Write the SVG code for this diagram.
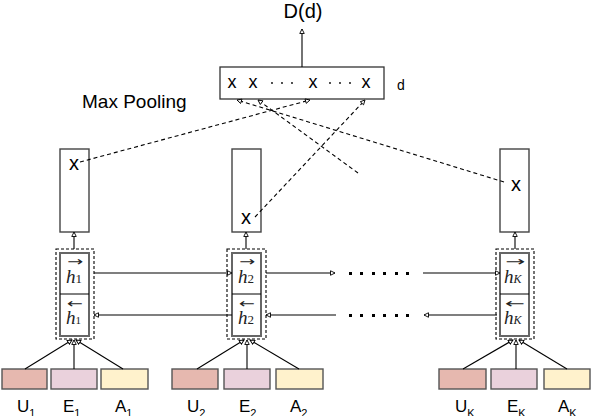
<svg xmlns="http://www.w3.org/2000/svg" width="592" height="416" viewBox="0 0 592 416">
<defs>
<marker id="ah" viewBox="0 0 8 8" refX="7" refY="4" markerWidth="6" markerHeight="6" markerUnits="userSpaceOnUse" orient="auto">
<path d="M1,1 L7,4 L1,7 z" fill="#fff" stroke="#000" stroke-width="1.2"/>
</marker>
<style>
.s{font-family:"Liberation Sans",Arial,sans-serif;fill:#000}
.m{font-family:"Liberation Serif","Times New Roman",serif;font-style:italic;fill:#222}
.acc{font-family:"DejaVu Sans",sans-serif;fill:#222}
.cell{fill:#fff;stroke:#444;stroke-width:1.4}
.hid{fill:#fff;stroke:#666;stroke-width:2}
.dbox{fill:none;stroke:#000;stroke-width:1.1;stroke-dasharray:3,2}
.ln{stroke:#000;stroke-width:1.1;fill:none}
.dl{stroke:#000;stroke-width:1.1;fill:none;stroke-dasharray:4,3}
.u{fill:#e6b8af;stroke:#555;stroke-width:1.4}
.e{fill:#ead1dc;stroke:#555;stroke-width:1.4}
.a{fill:#fff2cc;stroke:#555;stroke-width:1.4}
.dot{fill:#000}
</style>
</defs>
<rect width="592" height="416" fill="#fff"/>

<g id="output">
<text class="s" x="303" y="18" font-size="20" text-anchor="middle">D(d)</text>
</g>

<g id="maxpool">
<rect x="220" y="67" width="164" height="32" fill="#fff" stroke="#333" stroke-width="1.3"/>
<text class="s" x="232" y="88" font-size="18" text-anchor="middle">x</text>
<text class="s" x="253" y="88" font-size="18" text-anchor="middle">x</text>
<text class="s" x="313" y="88" font-size="18" text-anchor="middle">x</text>
<text class="s" x="366" y="88" font-size="18" text-anchor="middle">x</text>
<circle class="dot" cx="272" cy="83" r="0.9"/><circle class="dot" cx="282" cy="83" r="0.9"/><circle class="dot" cx="292" cy="83" r="0.9"/>
<circle class="dot" cx="330" cy="83" r="0.9"/><circle class="dot" cx="340" cy="83" r="0.9"/><circle class="dot" cx="350" cy="83" r="0.9"/>
<text class="s" x="397" y="90" font-size="14">d</text>
<text class="s" x="82" y="108" font-size="19">Max Pooling</text>
</g>

<g id="cell1">
<rect class="cell" x="60" y="149" width="29" height="83"/>
<text class="s" x="74" y="170" font-size="20" text-anchor="middle">x</text>
</g>
<g id="cell2">
<rect class="cell" x="232" y="149" width="29" height="83"/>
<text class="s" x="246" y="224" font-size="20" text-anchor="middle">x</text>
</g>
<g id="cellK">
<rect class="cell" x="500" y="149" width="29" height="83"/>
<text class="s" x="516" y="191" font-size="20" text-anchor="middle">x</text>
</g>

<g id="hidden1">
<rect class="dbox" x="56" y="249" width="38" height="90"/>
<rect class="hid" x="60" y="253" width="29" height="83"/>
<line x1="60" y1="294" x2="89" y2="294" stroke="#000" stroke-width="1"/>
<text class="acc" x="67" y="266" font-size="13" textLength="16" lengthAdjust="spacingAndGlyphs">→</text>
<text class="m" x="66" y="283" font-size="19">h<tspan font-style="normal" font-size="13">1</tspan></text>
<text class="acc" x="67" y="308" font-size="13" textLength="16" lengthAdjust="spacingAndGlyphs">←</text>
<text class="m" x="66" y="324" font-size="19">h<tspan font-style="normal" font-size="11">1</tspan></text>
</g>
<g id="hidden2">
<rect class="dbox" x="227" y="249" width="39" height="90"/>
<rect class="hid" x="232" y="253" width="29" height="83"/>
<line x1="232" y1="294" x2="261" y2="294" stroke="#000" stroke-width="1"/>
<text class="acc" x="239" y="266" font-size="13" textLength="16" lengthAdjust="spacingAndGlyphs">→</text>
<text class="m" x="238" y="283" font-size="19">h<tspan font-style="normal" font-size="13">2</tspan></text>
<text class="acc" x="239" y="308" font-size="13" textLength="16" lengthAdjust="spacingAndGlyphs">←</text>
<text class="m" x="238" y="324" font-size="19">h<tspan font-style="normal" font-size="13">2</tspan></text>
</g>
<g id="hiddenK">
<rect class="dbox" x="496" y="249" width="38" height="90"/>
<rect class="hid" x="500" y="253" width="29" height="83"/>
<line x1="500" y1="294" x2="529" y2="294" stroke="#000" stroke-width="1"/>
<text class="acc" x="505" y="266" font-size="13" textLength="20" lengthAdjust="spacingAndGlyphs">→</text>
<text class="m" x="504" y="283" font-size="19">h<tspan font-size="12">K</tspan></text>
<text class="acc" x="505" y="308" font-size="13" textLength="20" lengthAdjust="spacingAndGlyphs">←</text>
<text class="m" x="504" y="324" font-size="19">h<tspan font-size="12">K</tspan></text>
</g>

<g id="dots">
<rect class="dot" x="349" y="272" width="3" height="3"/><rect class="dot" x="360" y="272" width="3" height="3"/><rect class="dot" x="372" y="272" width="3" height="3"/><rect class="dot" x="383" y="272" width="3" height="3"/><rect class="dot" x="395" y="272" width="3" height="3"/><rect class="dot" x="406" y="272" width="3" height="3"/>
<rect class="dot" x="349" y="314" width="3" height="3"/><rect class="dot" x="360" y="314" width="3" height="3"/><rect class="dot" x="372" y="314" width="3" height="3"/><rect class="dot" x="383" y="314" width="3" height="3"/><rect class="dot" x="395" y="314" width="3" height="3"/><rect class="dot" x="406" y="314" width="3" height="3"/>
</g>

<g id="inputs1">
<rect class="u" x="2" y="369" width="45" height="20"/>
<rect class="e" x="51" y="369" width="46" height="20"/>
<rect class="a" x="101" y="369" width="47" height="20"/>
<text class="s" x="17" y="412" font-size="17">U<tspan font-size="11" dy="5">1</tspan></text>
<text class="s" x="63" y="412" font-size="17">E<tspan font-size="11" dy="5">1</tspan></text>
<text class="s" x="115" y="412" font-size="17">A<tspan font-size="11" dy="5">1</tspan></text>
</g>
<g id="inputs2">
<rect class="u" x="172" y="369" width="46" height="20"/>
<rect class="e" x="224" y="369" width="46" height="20"/>
<rect class="a" x="276" y="369" width="47" height="20"/>
<text class="s" x="187" y="412" font-size="17">U<tspan font-size="11" dy="5">2</tspan></text>
<text class="s" x="239" y="412" font-size="17">E<tspan font-size="11" dy="5">2</tspan></text>
<text class="s" x="290" y="412" font-size="17">A<tspan font-size="11" dy="5">2</tspan></text>
</g>
<g id="inputsK">
<rect class="u" x="439" y="369" width="47" height="20"/>
<rect class="e" x="491" y="369" width="46" height="20"/>
<rect class="a" x="544" y="369" width="46" height="20"/>
<text class="s" x="455" y="412" font-size="17">U<tspan font-size="11" dy="5">K</tspan></text>
<text class="s" x="507" y="412" font-size="17">E<tspan font-size="11" dy="5">K</tspan></text>
<text class="s" x="558" y="412" font-size="17">A<tspan font-size="11" dy="5">K</tspan></text>
</g>

<g id="connectors">
<line class="ln" x1="302" y1="67" x2="302" y2="29" marker-end="url(#ah)"/>
<line class="ln" x1="74" y1="249" x2="74" y2="232" marker-end="url(#ah)"/>
<line class="ln" x1="246" y1="249" x2="246" y2="232" marker-end="url(#ah)"/>
<line class="ln" x1="515" y1="249" x2="515" y2="232" marker-end="url(#ah)"/>
<line class="ln" x1="94" y1="273" x2="232" y2="273" marker-end="url(#ah)"/>
<line class="ln" x1="266" y1="273" x2="335" y2="273" marker-end="url(#ah)"/>
<line class="ln" x1="423" y1="273" x2="500" y2="273" marker-end="url(#ah)"/>
<line class="ln" x1="232" y1="315" x2="94" y2="315" marker-end="url(#ah)"/>
<line class="ln" x1="336" y1="315" x2="266" y2="315" marker-end="url(#ah)"/>
<line class="ln" x1="497" y1="315" x2="424" y2="315" marker-end="url(#ah)"/>
<line class="dl" x1="80" y1="162" x2="310" y2="100" marker-end="url(#ah)"/>
<line class="dl" x1="255" y1="217" x2="365" y2="100" marker-end="url(#ah)"/>
<line class="dl" x1="504" y1="182" x2="237" y2="100" marker-end="url(#ah)"/>
<line class="dl" x1="358" y1="173" x2="258" y2="100" marker-end="url(#ah)"/>
<line class="ln" x1="25" y1="369" x2="72" y2="340" marker-end="url(#ah)"/>
<line class="ln" x1="74" y1="369" x2="74" y2="340" marker-end="url(#ah)"/>
<line class="ln" x1="123" y1="369" x2="76" y2="340" marker-end="url(#ah)"/>
<line class="ln" x1="197" y1="369" x2="244" y2="340" marker-end="url(#ah)"/>
<line class="ln" x1="247" y1="369" x2="247" y2="340" marker-end="url(#ah)"/>
<line class="ln" x1="299" y1="369" x2="250" y2="340" marker-end="url(#ah)"/>
<line class="ln" x1="463" y1="369" x2="513" y2="340" marker-end="url(#ah)"/>
<line class="ln" x1="516" y1="369" x2="516" y2="340" marker-end="url(#ah)"/>
<line class="ln" x1="567" y1="369" x2="519" y2="340" marker-end="url(#ah)"/>
</g>
</svg>
